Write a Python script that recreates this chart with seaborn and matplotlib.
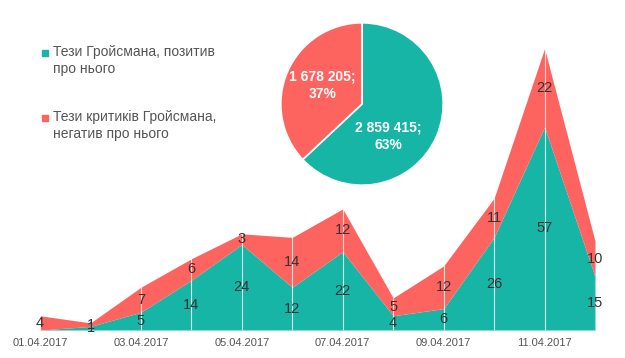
import matplotlib
matplotlib.use("Agg")
import matplotlib.pyplot as plt
import seaborn as sns
import pandas as pd
import numpy as np

dates = ["01.04.2017", "02.04.2017", "03.04.2017", "04.04.2017", "05.04.2017", "06.04.2017",
         "07.04.2017", "08.04.2017", "09.04.2017", "10.04.2017", "11.04.2017", "12.04.2017"]
positive = [0, 1, 5, 14, 24, 12, 22, 4, 6, 26, 57, 15]
negative = [4, 1, 7, 6, 3, 14, 12, 5, 12, 11, 22, 10]
series_names = ["Тези Гройсмана, позитив\nпро нього", "Тези критиків Гройсмана,\nнегатив про нього"]
pie_values = [2859415, 1678205]
pie_labels = ["2 859 415;\n63%", "1 678 205;\n37%"]

sns.set_theme(style="white")
plt.rcParams['font.family'] = ['Liberation Sans', 'DejaVu Sans']

colors = ["#17B5A6", "#FD6460"]
df = pd.DataFrame({"date": dates, "pos": positive, "neg": negative})

fig = plt.figure(figsize=(6.25, 3.58), dpi=100)
W, H = 625, 358
ax = fig.add_axes([40 / W, (H - 330) / H, 555 / W, 285 / H])
x = np.arange(len(df))
ax.stackplot(x, df["pos"], df["neg"], colors=colors, linewidth=0)
ax.set_xlim(0, len(df) - 1)
ax.set_ylim(0, 80)
for xi, (p, n) in enumerate(zip(df["pos"], df["neg"])):
    ax.plot([xi, xi], [0, p + n], color="white", lw=0.8, alpha=0.8)
    if p > 0:
        ax.text(xi, p / 2, str(p), ha="center", va="center", fontsize=10.5, color="#333333")
    if n > 0:
        ax.text(xi, p + n / 2, str(n), ha="center", va="center", fontsize=10.5, color="#333333")
ax.set_xticks(x[::2])
ax.set_xticklabels(df["date"][::2], fontsize=8, color="#555555")
ax.tick_params(axis="x", length=0, pad=6)
ax.set_yticks([])
for s in ax.spines.values():
    s.set_visible(False)
ax.patch.set_alpha(0)

# legend
for i, (name, yy) in enumerate(zip(series_names, [53, 118])):
    fig.patches.append(plt.Rectangle((42 / W, 1 - (yy + 3) / H), 6 / W, 6 / H,
                                     transform=fig.transFigure, color=colors[i], figure=fig))
    fig.text(53 / W, 1 - (yy - 8) / H, name, fontsize=10, color="#555555", va="top",
             ha="left", linespacing=1.25)

# pie
r = 82
pax = fig.add_axes([(362 - r) / W, 1 - (104 + r) / H, 2 * r / W, 2 * r / H])
wedges, _ = pax.pie(pie_values, colors=colors, startangle=90, counterclock=False,
                    wedgeprops=dict(edgecolor="white", linewidth=1.2))
pax.set_xlim(-1.01, 1.01)
pax.set_ylim(-1.01, 1.01)
pax.set_aspect("equal")
pax.text(0.32, -0.40, pie_labels[0], ha="center", va="center", color="white",
         fontsize=10, fontweight="bold", linespacing=1.3)
pax.text(-0.49, 0.23, pie_labels[1], ha="center", va="center", color="white",
         fontsize=10, fontweight="bold", linespacing=1.3)

fig.savefig("out.png", dpi=100)
